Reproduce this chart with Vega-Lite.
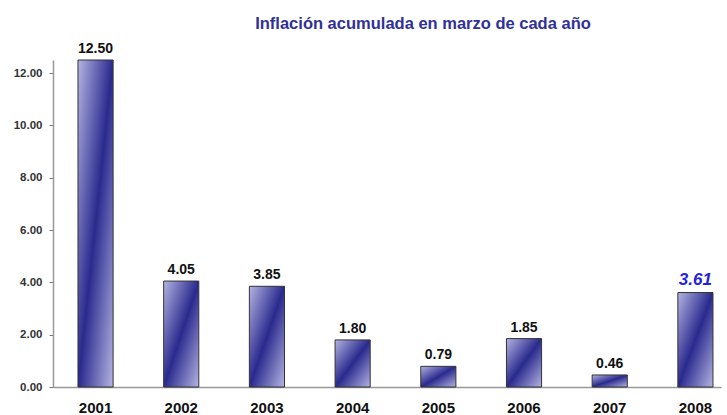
{
  "$schema": "https://vega.github.io/schema/vega-lite/v6.json",
  "width": 668,
  "height": 327,
  "autosize": "none",
  "padding": {"left": 53, "top": 60, "right": 6, "bottom": 28},
  "background": "white",
  "title": {
    "text": "Inflación acumulada en marzo de cada año",
    "font": "Liberation Sans",
    "fontSize": 16.5,
    "fontWeight": "bold",
    "color": "#30309a",
    "anchor": "middle",
    "dx": 36,
    "offset": 10
  },
  "data": {
    "values": [
      {"year": "2001", "value": 12.50},
      {"year": "2002", "value": 4.05},
      {"year": "2003", "value": 3.85},
      {"year": "2004", "value": 1.80},
      {"year": "2005", "value": 0.79},
      {"year": "2006", "value": 1.85},
      {"year": "2007", "value": 0.46},
      {"year": "2008", "value": 3.61}
    ]
  },
  "encoding": {
    "x": {
      "field": "year",
      "type": "nominal",
      "sort": null,
      "scale": {"paddingInner": 0.59, "paddingOuter": 0.1925, "align": 0.757},
      "axis": {
        "title": null,
        "labelAngle": 0,
        "labelFont": "Liberation Sans",
        "labelFontSize": 15,
        "labelFontWeight": "bold",
        "labelColor": "#111111",
        "labelPadding": 13,
        "ticks": false,
        "domainColor": "#999999",
        "domainWidth": 1.5
      }
    },
    "y": {
      "field": "value",
      "type": "quantitative",
      "scale": {"domain": [0, 12.5], "nice": false},
      "axis": {
        "title": null,
        "values": [0, 2, 4, 6, 8, 10, 12],
        "format": ".2f",
        "grid": false,
        "labelFont": "Liberation Sans",
        "labelFontSize": 11.5,
        "labelFontWeight": "bold",
        "labelColor": "#333333",
        "labelPadding": 7,
        "tickSize": 4,
        "tickColor": "#777777",
        "domainColor": "#999999",
        "domainWidth": 1.5
      }
    }
  },
  "layer": [
    {
      "mark": {
        "type": "bar",
        "color": {
          "gradient": "linear",
          "x1": 0, "y1": 0, "x2": 1, "y2": 1,
          "stops": [
            {"offset": 0, "color": "#b4b4e2"},
            {"offset": 0.5, "color": "#2a2a8e"},
            {"offset": 1, "color": "#b4b4e2"}
          ]
        },
        "stroke": "#333333",
        "strokeWidth": 1
      }
    },
    {
      "transform": [{"filter": "datum.year !== '2008'"}],
      "mark": {
        "type": "text",
        "baseline": "alphabetic",
        "dy": -7,
        "font": "Liberation Sans",
        "fontSize": 14,
        "fontWeight": "bold",
        "color": "#111111"
      },
      "encoding": {"text": {"field": "value", "type": "quantitative", "format": ".2f"}}
    },
    {
      "transform": [{"filter": "datum.year === '2008'"}],
      "mark": {
        "type": "text",
        "baseline": "alphabetic",
        "dy": -8,
        "font": "Liberation Sans",
        "fontSize": 17,
        "fontWeight": "bold",
        "fontStyle": "italic",
        "color": "#2222e0"
      },
      "encoding": {"text": {"field": "value", "type": "quantitative", "format": ".2f"}}
    }
  ],
  "config": {"view": {"stroke": null}}
}
